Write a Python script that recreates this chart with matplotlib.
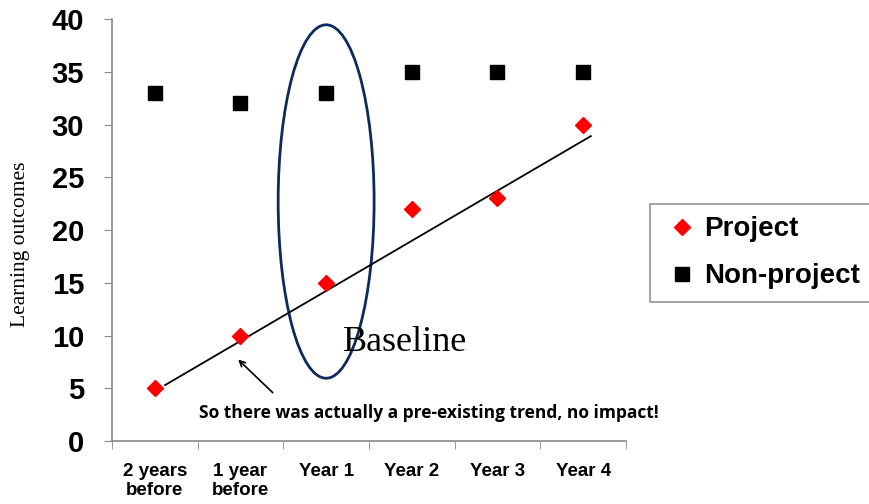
import matplotlib.pyplot as plt
from matplotlib.patches import Ellipse
import numpy as np

categories = ["2 years\nbefore", "1 year\nbefore", "Year 1", "Year 2", "Year 3", "Year 4"]
project = [5, 10, 15, 22, 23, 30]
non_project = [33, 32, 33, 35, 35, 35]
y_ticks = [0, 5, 10, 15, 20, 25, 30, 35, 40]

fig = plt.figure(figsize=(8.7, 5.04), dpi=100)
ax = fig.add_axes([0.1287, 0.125, 0.5908, 0.8373])

x = np.arange(len(categories))
ax.plot(x, project, linestyle="none", marker="D", color="#ff0000",
        markersize=8, label="Project", zorder=4)
ax.plot(x, non_project, linestyle="none", marker="s", color="black",
        markersize=10, label="Non-project", zorder=4)

# hand-drawn trend line through the project scores
ax.plot([0.12, 5.09], [5.3, 28.9], color="black", lw=1.3, zorder=3)

# baseline ellipse around Year 1
ax.add_patch(Ellipse((2, 22.7), 1.12, 33.5, fill=False,
                     edgecolor="#0d2a5c", lw=2, zorder=2))
ax.text(2.2, 9.3, "Baseline", fontsize=26, family="Liberation Serif",
        va="center", ha="left")

ax.annotate("", xy=(0.95, 7.9), xytext=(1.4, 4.4),
            arrowprops=dict(arrowstyle="->", color="black", lw=1.2))
ax.text(0.52, 2.65, "So there was actually a pre-existing trend, no impact!",
        fontsize=12.5, fontweight="bold", family="Open Sans",
        va="center", ha="left")

ax.set_xlim(-0.5, 5.5)
ax.set_ylim(0, 40)
ax.set_yticks(y_ticks)
ax.set_yticklabels([str(v) for v in y_ticks], fontsize=21, fontweight="bold",
                   family="Liberation Sans")
ax.set_xticks(x)
ax.set_xticklabels(categories, fontsize=13.5, fontweight="bold",
                   family="Liberation Sans", linespacing=1.15)
ax.set_xticks(np.arange(-0.5, 6.0, 1.0), minor=True)
ax.tick_params(axis="x", which="major", length=0, pad=16)
ax.tick_params(axis="x", which="minor", length=6, color="#888888",
               direction="out")
ax.tick_params(axis="y", length=6, color="#888888", direction="out", pad=14)

for s in ["top", "right"]:
    ax.spines[s].set_visible(False)
for s in ["left", "bottom"]:
    ax.spines[s].set_color("#888888")
    ax.spines[s].set_linewidth(1.2)

ax.set_ylabel("Learning outcomes", fontsize=15.5, family="Liberation Serif")
ax.yaxis.set_label_coords(-0.16, 0.466)

leg = fig.legend(loc="upper left", bbox_to_anchor=(650 / 870, 1 - 204 / 504),
                 frameon=True, fancybox=False, handlelength=1.4,
                 handletextpad=0.1, borderpad=0.45, labelspacing=0.75,
                 borderaxespad=0,
                 prop=dict(family="Liberation Sans", weight="bold", size=20))
leg.get_frame().set_edgecolor("#777777")
leg.get_frame().set_linewidth(1.2)

fig.savefig("out.png", dpi=100)
